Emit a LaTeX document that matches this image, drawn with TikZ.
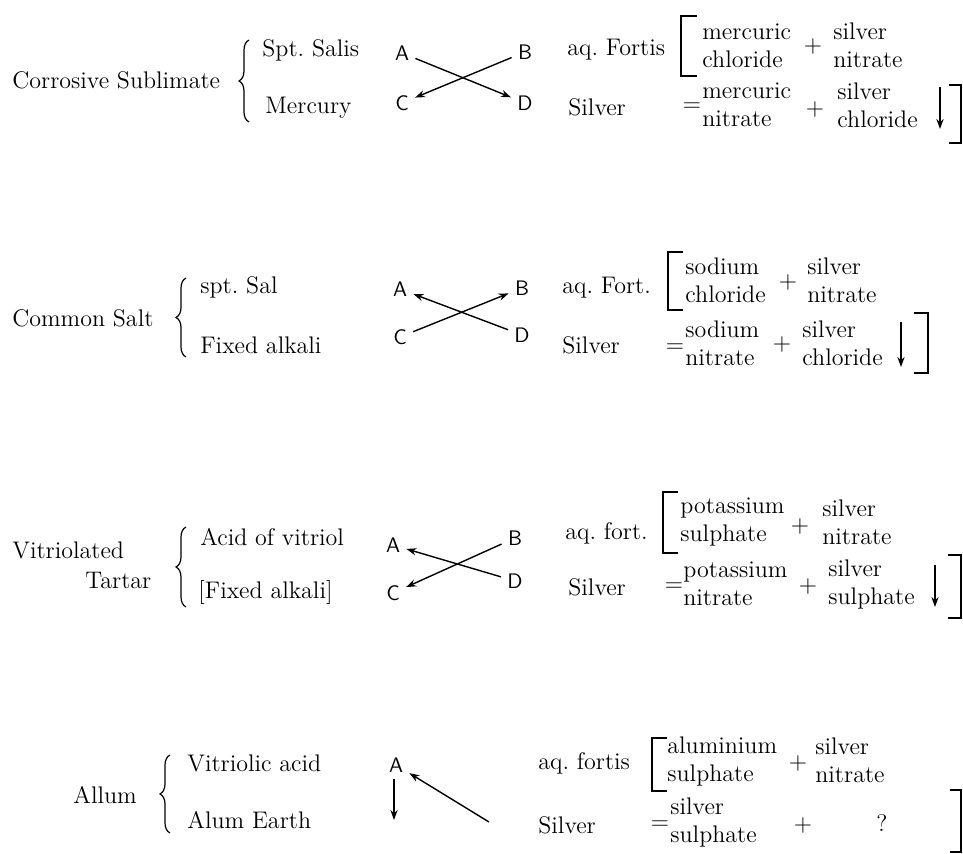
\documentclass[tikz,border=0pt]{standalone}
\usetikzlibrary{arrows.meta,decorations.pathreplacing}
\tikzset{
  txt/.style={inner sep=0pt, anchor=west},
  pair/.style={inner sep=0pt, anchor=west, align=left},
  sign/.style={inner sep=0pt},
  letter/.style={font=\fontsize{10.5}{12}\selectfont\sffamily, inner sep=3pt},
  arr/.style={-{Stealth[length=5pt,width=3.6pt]}, line width=.7pt},
  brack/.style={line width=1.1pt},
  curly/.style={decorate, decoration={brace, amplitude=5pt}, line width=.6pt},
}
\frenchspacing
\begin{document}
\begin{tikzpicture}[x=.5pt,y=-.5pt, font=\fontsize{12}{14}\selectfont]
    \useasboundingbox (0,0) rectangle (963,854);

    %Corrosive Sublimate
    \node[txt] (salt1) at (12,80) {Corrosive Sublimate};
    \draw[curly] (249,122) -- (249,40);
    \node[txt] (top1) at (262,50) {Spt. Salis};
    \node[txt] (bot1) at (265,108) {Mercury};
    \node[letter] (a1) at (402,53) {A};
    \node[letter] (b1) at (525,52) {B};
    \node[letter] (c1) at (402,103) {C};
    \node[letter] (d1) at (525,103) {D};
    \draw[arr] (a1) -- (d1);
    \draw[arr] (b1) -- (c1);
    \node[txt] (aq1) at (567,50) {aq. Fortis};
    \draw[brack] (697,16) -- (681,16) -- (681,76) -- (697,76);
    \node[pair] (l1) at (702,46) {mercuric\\chloride};
    \node[sign] (p1) at (813,47) {$+$};
    \node[pair] (r1) at (833,45) {silver\\nitrate};
    \node[txt] (ag1) at (568,107) {Silver};
    \node[sign] (e1) at (692,107) {$=$};
    \node[pair] (l1b) at (702,105) {mercuric\\nitrate};
    \node[sign] (p1b) at (815,110) {$+$};
    \node[pair] (r1b) at (837,105) {silver\\chloride};
    \coordinate (dt1) at (940,87);
    \coordinate (db1) at (940,129);
    \draw[arr] (dt1) -- (db1);
    \draw[brack] (949,85) -- (961,85) -- (961,143) -- (949,143);

    %Common Salt
    \node[txt] (salt2) at (12,318) {Common Salt};
    \draw[curly] (186,357) -- (186,278);
    \node[txt] (top2) at (200,287) {spt. Sal};
    \node[txt] (bot2) at (200,345) {Fixed alkali};
    \node[letter] (a2) at (400,289) {A};
    \node[letter] (b2) at (522,288) {B};
    \node[letter] (c2) at (400,337) {C};
    \node[letter] (d2) at (522,335) {D};
    \draw[arr] (c2) -- (b2);
    \draw[arr] (d2) -- (a2);
    \node[txt] (aq2) at (562,288) {aq. Fort.};
    \draw[brack] (683,252) -- (668,252) -- (668,310) -- (683,310);
    \node[pair] (l2) at (685,280) {sodium\\chloride};
    \node[sign] (p2) at (788,283) {$+$};
    \node[pair] (r2) at (807,280) {silver\\nitrate};
    \node[txt] (ag2) at (562,345) {Silver};
    \node[sign] (e2) at (675,348) {$=$};
    \node[pair] (l2b) at (685,343) {sodium\\nitrate};
    \node[sign] (p2b) at (782,345) {$+$};
    \node[pair] (r2b) at (802,343) {silver\\chloride};
    \coordinate (dt2) at (901,322);
    \coordinate (db2) at (901,367);
    \draw[arr] (dt2) -- (db2);
    \draw[brack] (914,313) -- (928,313) -- (928,373) -- (914,373);

    %Vitriolated Tartar
    \node[txt] (salt3) at (12,550) {Vitriolated};
    \node[txt] (salt3b) at (85,580) {Tartar};
    \draw[curly] (186,607) -- (186,527);
    \node[txt] (top3) at (200,537) {Acid of vitriol};
    \node[txt] (bot3) at (198,593) {[Fixed alkali]};
    \node[letter] (a3) at (393,545) {A};
    \node[letter] (b3) at (515,538) {B};
    \node[letter] (c3) at (393,593) {C};
    \node[letter] (d3) at (515,581) {D};
    \draw[arr] (d3) -- (a3);
    \draw[arr] (b3) -- (c3);
    \node[txt] (aq3) at (565,533) {aq. fort.};
    \draw[brack] (678,492) -- (663,492) -- (663,553) -- (678,553);
    \node[pair] (l3) at (680,522) {potassium\\sulphate};
    \node[sign] (p3) at (800,527) {$+$};
    \node[pair] (r3) at (822,522) {silver\\nitrate};
    \node[txt] (ag3) at (568,587) {Silver};
    \node[sign] (e3) at (674,587) {$=$};
    \node[pair] (l3b) at (683,584) {potassium\\nitrate};
    \node[sign] (p3b) at (808,587) {$+$};
    \node[pair] (r3b) at (828,585) {silver\\sulphate};
    \coordinate (dt3) at (935,565);
    \coordinate (db3) at (935,607);
    \draw[arr] (dt3) -- (db3);
    \draw[brack] (948,555) -- (961,555) -- (961,618) -- (948,618);

    %Allum
    \node[txt] (salt4) at (73,795) {Allum};
    \draw[curly] (170,833) -- (170,755);
    \node[txt] (top4) at (187,763) {Vitriolic acid};
    \node[txt] (bot4) at (187,820) {Alum Earth};
    \node[letter] (a4) at (396,765) {A};
    \coordinate (end4) at (394,820);
    \coordinate (tail4) at (489,822);
    \draw[arr] (a4.south -| end4) -- (end4);
    \draw[arr] (tail4) -- (a4);
    \node[txt] (aq4) at (538,763) {aq. fortis};
    \draw[brack] (667,738) -- (652,738) -- (652,791) -- (667,791);
    \node[pair] (l4) at (667,761) {aluminium\\sulphate};
    \node[sign] (p4) at (798,763) {$+$};
    \node[pair] (r4) at (815,760) {silver\\nitrate};
    \node[txt] (ag4) at (538,825) {Silver};
    \node[sign] (e4) at (660,825) {$=$};
    \node[pair] (l4b) at (670,822) {silver\\sulphate};
    \node[sign] (p4b) at (803,825) {$+$};
    \node[sign] (q4) at (882,823) {?};
    \draw[brack] (950,790) -- (961,790) -- (961,852) -- (950,852);
\end{tikzpicture}
\end{document}
